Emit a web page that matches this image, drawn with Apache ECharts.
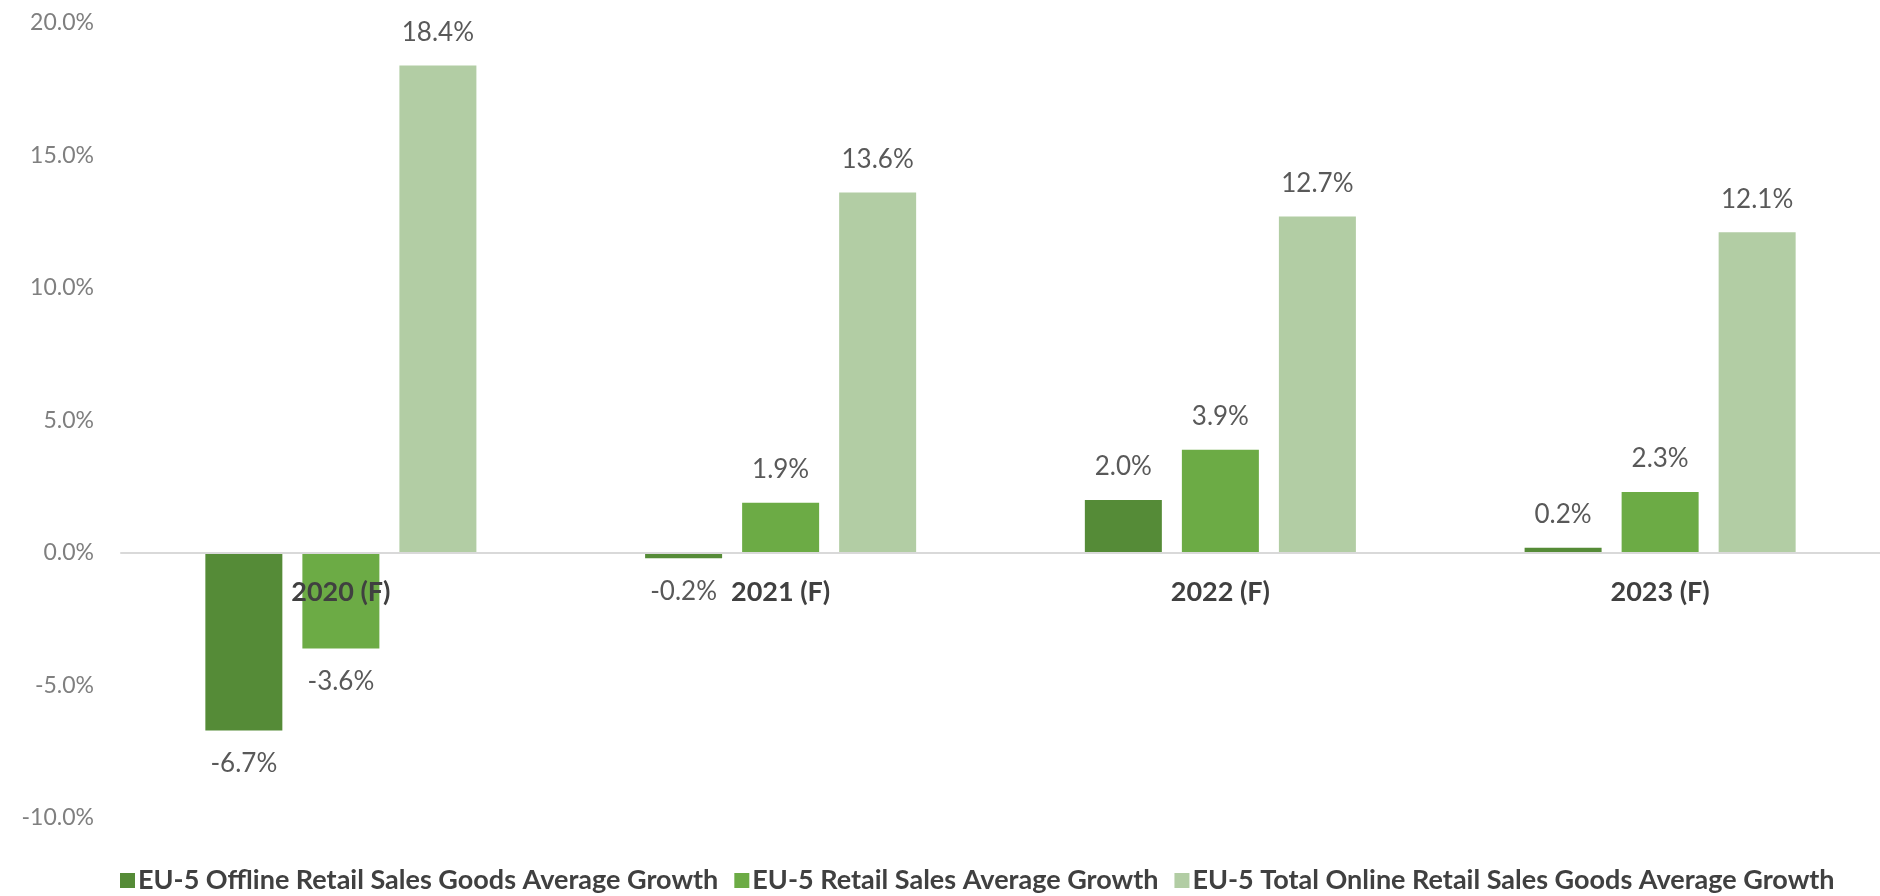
<!DOCTYPE html>
<html>
<head>
<meta charset="utf-8">
<title>EU-5 Retail Sales Growth</title>
<script src="https://cdn.jsdelivr.net/npm/echarts@6/dist/echarts.min.js"></script>
<style>
  html, body { margin: 0; padding: 0; background: #ffffff; }
  #chart { width: 1880px; height: 896px; }
</style>
</head>
<body>
<div id="chart"></div>
<script>
// Years on the category axis
const years = ['2020 (F)', '2021 (F)', '2022 (F)', '2023 (F)'];

// Average growth rates, in percent
const offlineGoodsGrowth = [-6.7, -0.2, 2.0, 0.2];
const retailSalesGrowth = [-3.6, 1.9, 3.9, 2.3];
const onlineGoodsGrowth = [18.4, 13.6, 12.7, 12.1];

const seriesNames = [
  'EU-5 Offline Retail Sales Goods Average Growth',
  'EU-5 Retail Sales Average Growth',
  'EU-5 Total Online Retail Sales Goods Average Growth'
];

// Value axis range and step, in percent
const yMin = -10;
const yMax = 20;
const yStep = 5;

const FONT = 'Lato, "Open Sans", "Liberation Sans", sans-serif';
const colors = ['#558b37', '#6cab45', '#b2cda4'];

// Plot area
const gridTop = 23;
const gridHeight = 795;
// The category axis sits on the zero line: shift it up from the plot bottom
const zeroShift = -gridHeight * (0 - yMin) / (yMax - yMin);

// Negative values get their label under the bar end
function withLabels(values) {
  return values.map(v => ({
    value: v,
    label: { position: v < 0 ? 'bottom' : 'top' }
  }));
}

function barSeries(name, values, color) {
  return {
    name: name,
    type: 'bar',
    barWidth: 77,
    barGap: '26%',
    itemStyle: { color: color },
    label: {
      show: true,
      distance: 20,
      color: '#595959',
      fontFamily: FONT,
      fontSize: 26,
      formatter: p => p.value.toFixed(1) + '%'
    },
    data: withLabels(values)
  };
}

const chart = echarts.init(document.getElementById('chart'), null, { renderer: 'canvas' });

chart.setOption({
  animation: false,
  backgroundColor: '#ffffff',
  grid: { left: 121, top: gridTop, width: 1771, height: gridHeight },
  legend: {
    left: 115,
    bottom: -3,
    itemWidth: 15,
    itemHeight: 15,
    itemGap: 16,
    icon: 'rect',
    textStyle: { color: '#404040', fontFamily: FONT, fontSize: 27, fontWeight: 'bold', padding: [0, 0, 0, -2] },
    data: seriesNames
  },
  xAxis: {
    type: 'category',
    data: years,
    z: 10,
    offset: zeroShift,
    axisLine: { onZero: false, lineStyle: { color: '#d9d9d9', width: 2 } },
    axisTick: { show: false },
    axisLabel: {
      margin: 26,
      color: '#404040',
      fontFamily: FONT,
      fontSize: 27,
      fontWeight: 'bold'
    }
  },
  yAxis: {
    type: 'value',
    min: yMin,
    max: yMax,
    interval: yStep,
    axisLine: { show: false },
    axisTick: { show: false },
    splitLine: { show: false },
    axisLabel: {
      margin: 27,
      color: '#7f7f7f',
      fontFamily: FONT,
      fontSize: 23,
      formatter: v => v.toFixed(1) + '%'
    }
  },
  series: [
    barSeries(seriesNames[0], offlineGoodsGrowth, colors[0]),
    barSeries(seriesNames[1], retailSalesGrowth, colors[1]),
    barSeries(seriesNames[2], onlineGoodsGrowth, colors[2])
  ]
});
</script>
</body>
</html>
